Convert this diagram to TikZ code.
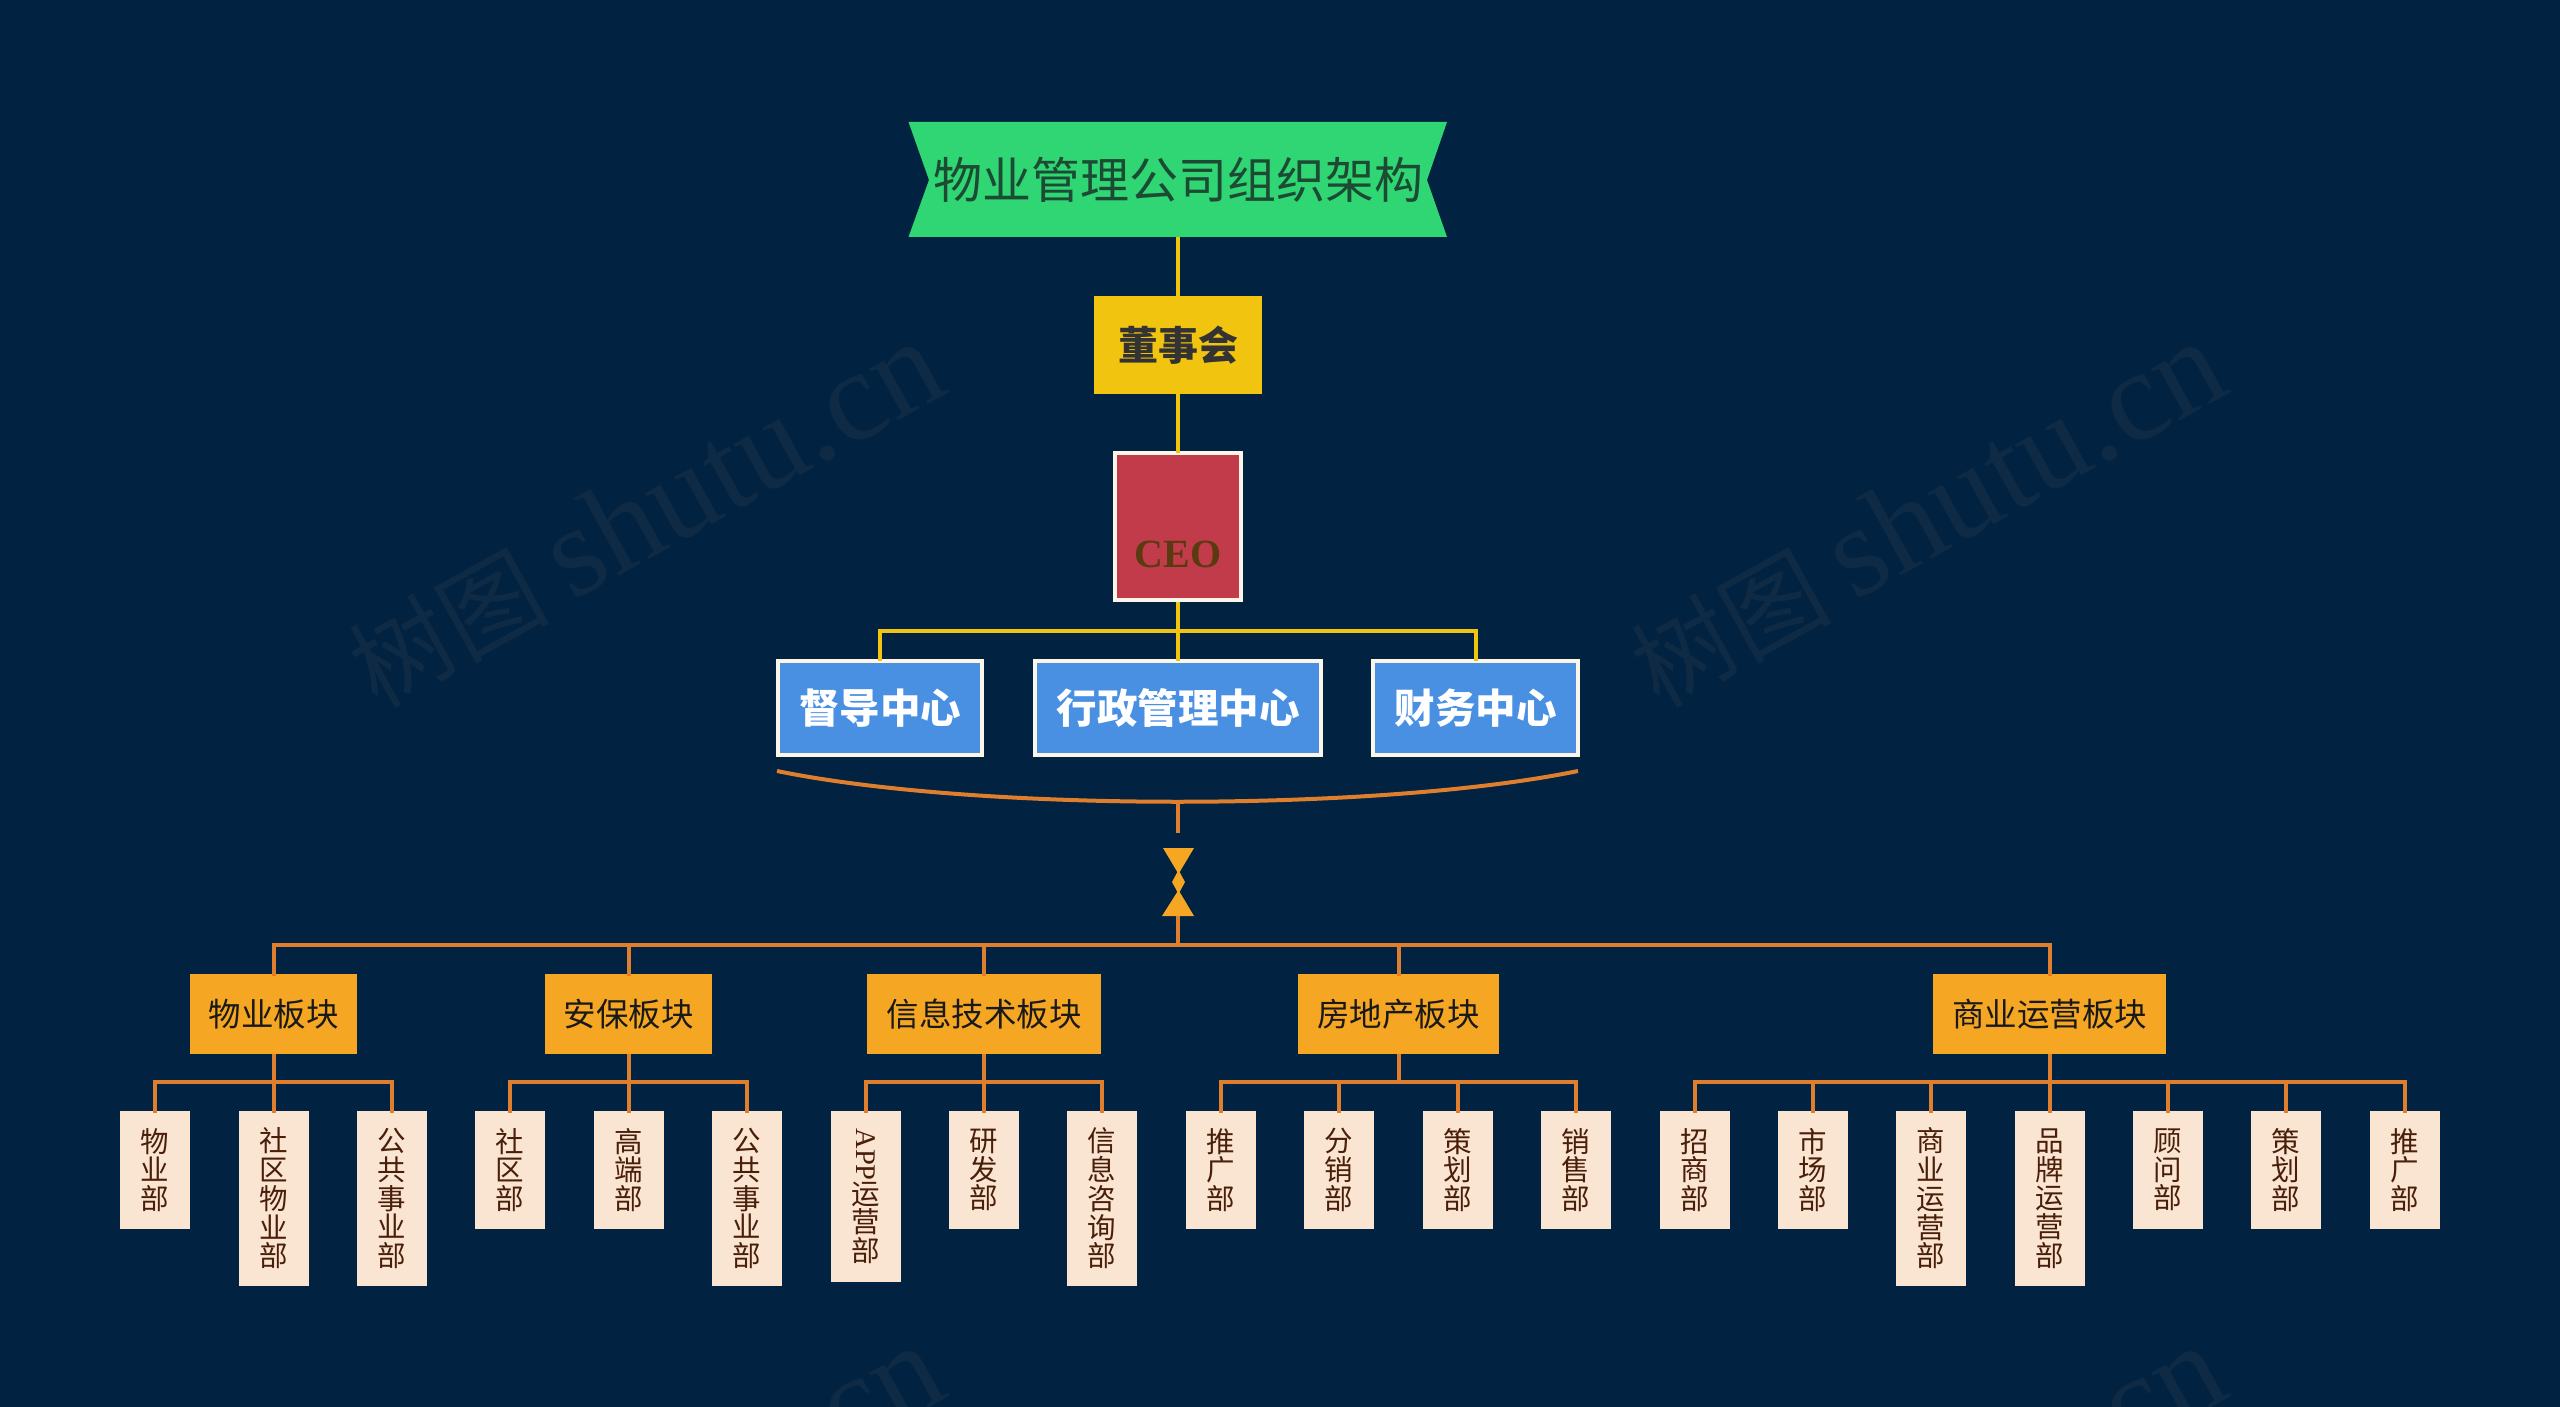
\documentclass[tikz,border=0pt]{standalone}
\usepackage{fontspec}
\setmainfont{Noto Sans CJK SC}
\newfontfamily\latinfont{Liberation Serif}
\usetikzlibrary{arrows.meta, calc}

\definecolor{bgnavy}{HTML}{012240}
\definecolor{markgrey}{HTML}{0E2A44}
\definecolor{titlegreen}{HTML}{2FD673}
\definecolor{titleink}{HTML}{1C4A33}
\definecolor{boardyellow}{HTML}{F1C40F}
\definecolor{ceored}{HTML}{C23B4B}
\definecolor{ceoink}{HTML}{5A3A10}
\definecolor{framecream}{HTML}{FBF6E8}
\definecolor{centerblue}{HTML}{4A90E2}
\definecolor{blockorange}{HTML}{F5A623}
\definecolor{lineorange}{HTML}{DF7F2E}
\definecolor{leafcream}{HTML}{FAE5D3}
\definecolor{leafink}{HTML}{4A1F0A}

\tikzset{
	watermark/.style={text=markgrey, rotate=29, font=\fontsize{100}{100}\selectfont, inner sep=0},
	titlebox/.style={minimum width=538, minimum height=115, inner sep=0, text=titleink, font=\fontsize{49}{49}\selectfont},
	boardbox/.style={minimum width=168, minimum height=98, inner sep=0, fill=boardyellow, text=black!80, font=\fontsize{40}{40}\selectfont\bfseries},
	ceobox/.style={draw=framecream, line width=4, fill=ceored, minimum width=126, inner sep=0, text height=114, text depth=33, text=ceoink, font=\latinfont\fontsize{40}{40}\selectfont\bfseries},
	centerbox/.style={draw=framecream, line width=4, fill=centerblue, minimum height=94, inner sep=0, text=white, font=\fontsize{40.5}{40.5}\selectfont\bfseries},
	blockbox/.style={fill=blockorange, minimum height=80, inner sep=0, text=black!90, font=\fontsize{32.5}{32.5}\selectfont},
	leafbox/.style={anchor=north, fill=leafcream, minimum width=70, inner sep=0, align=center, text=leafink, font=\fontsize{28.5}{28.7}\selectfont},
	leafthree/.style={leafbox, minimum height=118.5},
	leaffive/.style={leafbox, minimum height=175.5},
	yellowline/.style={draw=boardyellow, line width=4, shorten >=-2},
	orangeline/.style={draw=lineorange, line width=4, shorten >=-2},
}
\newcommand{\markname}{树图 {\latinfont\fontsize{129}{129}\selectfont shutu.cn}}

\begin{document}
\begin{tikzpicture}[x=1pt, y=-1pt]
	\useasboundingbox (0,0) rectangle (2560,1407);
	\clip (0,0) rectangle (2560,1407);
	\fill[bgnavy] (0,0) rectangle (2560,1407);

	\node[watermark] (mark1) at (645,515) {\markname};
	\node[watermark] (mark2) at (1927,515) {\markname};
	\node[watermark] (mark3) at (645,1519) {\markname};
	\node[watermark] (mark4) at (1927,1519) {\markname};

	\fill[titlegreen] (908.5,122) -- (1447,122) -- (1427,180) -- (1447,237) -- (908.5,237) -- (929,180) -- cycle;
	\node[titlebox] (title) at (1178,179.5) {物业管理公司组织架构};
	\node[boardbox] (board) at (1178,345) {董事会};
	\node[ceobox] (ceo) at (1178,526.5) {CEO};

	\node[centerbox, minimum width=204] (supervise) at (880,708) {督导中心};
	\node[centerbox, minimum width=286] (admin) at (1178,708) {行政管理中心};
	\node[centerbox, minimum width=205] (finance) at (1475.5,708) {财务中心};

	\coordinate (yellowbus) at (1178,631);
	\draw[yellowline] (title) -- (board);
	\draw[yellowline] (board) -- (ceo);
	\draw[yellowline] (ceo) -- (admin);
	\draw[yellowline] (yellowbus) -| (supervise);
	\draw[yellowline] (yellowbus) -| (finance);

	\coordinate (curveleft) at (777,771);
	\coordinate (curveright) at (1578,771);
	\coordinate (curvemid) at (1178,802);
	\coordinate (stemend) at (1178,833);
	\draw[draw=lineorange, line width=4] (curveleft) .. controls (977,812) and (1378,812) .. (curveright);
	\draw[draw=lineorange, line width=4] (curvemid) -- (stemend);

	\fill[blockorange] (1163,848) -- (1194,848) -- (1178.5,874) -- cycle;
	\fill[blockorange] (1178.5,870) -- (1185,882) -- (1178.5,894) -- (1172,882) -- cycle;
	\fill[blockorange] (1178.5,890) -- (1194,916) -- (1162,916) -- cycle;

	\node[blockbox, minimum width=167.5] (prop) at (273.5,1014) {物业板块};
	\node[blockbox, minimum width=167.5] (secu) at (628.7,1014) {安保板块};
	\node[blockbox, minimum width=234] (tech) at (984,1014) {信息技术板块};
	\node[blockbox, minimum width=201] (real) at (1398.5,1014) {房地产板块};
	\node[blockbox, minimum width=233] (comm) at (2049.5,1014) {商业运营板块};

	\coordinate (hourbase) at (1178,916);
	\coordinate (mainbus) at (1178,945);
	\draw[orangeline] (hourbase) -- (mainbus);
	\draw[orangeline] (mainbus) -| (prop);
	\draw[orangeline] (mainbus) -| (secu);
	\draw[orangeline] (mainbus) -| (tech);
	\draw[orangeline] (mainbus) -| (real);
	\draw[orangeline] (mainbus) -| (comm);

	\node[leafthree] (prop1) at (155,1110.5) {物\\业\\部};
	\node[leaffive] (prop2) at (273.5,1110.5) {社\\区\\物\\业\\部};
	\node[leaffive] (prop3) at (392,1110.5) {公\\共\\事\\业\\部};

	\node[leafthree] (secu1) at (510,1110.5) {社\\区\\部};
	\node[leafthree] (secu2) at (628.7,1110.5) {高\\端\\部};
	\node[leaffive] (secu3) at (747,1110.5) {公\\共\\事\\业\\部};

	\node[leafbox, minimum height=171] (tech1) at (866,1110.5) {\rotatebox{-90}{\latinfont APP}\\运\\营\\部};
	\node[leafthree] (tech2) at (984,1110.5) {研\\发\\部};
	\node[leaffive] (tech3) at (1102,1110.5) {信\\息\\咨\\询\\部};

	\node[leafthree] (real1) at (1220.7,1110.5) {推\\广\\部};
	\node[leafthree] (real2) at (1339,1110.5) {分\\销\\部};
	\node[leafthree] (real3) at (1457.7,1110.5) {策\\划\\部};
	\node[leafthree] (real4) at (1576,1110.5) {销\\售\\部};

	\node[leafthree] (comm1) at (1694.5,1110.5) {招\\商\\部};
	\node[leafthree] (comm2) at (1812.6,1110.5) {市\\场\\部};
	\node[leaffive] (comm3) at (1931,1110.5) {商\\业\\运\\营\\部};
	\node[leaffive] (comm4) at (2049.5,1110.5) {品\\牌\\运\\营\\部};
	\node[leafthree] (comm5) at (2168,1110.5) {顾\\问\\部};
	\node[leafthree] (comm6) at (2286,1110.5) {策\\划\\部};
	\node[leafthree] (comm7) at (2405,1110.5) {推\\广\\部};

	\coordinate (propbus) at (273.5,1082);
	\draw[orangeline] (prop) -- (propbus);
	\draw[orangeline] (propbus) -| (prop1);
	\draw[orangeline] (propbus) -- (prop2);
	\draw[orangeline] (propbus) -| (prop3);

	\coordinate (secubus) at (628.7,1082);
	\draw[orangeline] (secu) -- (secubus);
	\draw[orangeline] (secubus) -| (secu1);
	\draw[orangeline] (secubus) -- (secu2);
	\draw[orangeline] (secubus) -| (secu3);

	\coordinate (techbus) at (984,1082);
	\draw[orangeline] (tech) -- (techbus);
	\draw[orangeline] (techbus) -| (tech1);
	\draw[orangeline] (techbus) -- (tech2);
	\draw[orangeline] (techbus) -| (tech3);

	\coordinate (realbus) at (1398.5,1082);
	\draw[orangeline] (real) -- (realbus);
	\draw[orangeline] (realbus) -| (real1);
	\draw[orangeline] (realbus) -| (real2);
	\draw[orangeline] (realbus) -| (real3);
	\draw[orangeline] (realbus) -| (real4);

	\coordinate (commbus) at (2049.5,1082);
	\draw[orangeline] (comm) -- (commbus);
	\draw[orangeline] (commbus) -| (comm1);
	\draw[orangeline] (commbus) -| (comm2);
	\draw[orangeline] (commbus) -| (comm3);
	\draw[orangeline] (commbus) -- (comm4);
	\draw[orangeline] (commbus) -| (comm5);
	\draw[orangeline] (commbus) -| (comm6);
	\draw[orangeline] (commbus) -| (comm7);
\end{tikzpicture}
\end{document}
